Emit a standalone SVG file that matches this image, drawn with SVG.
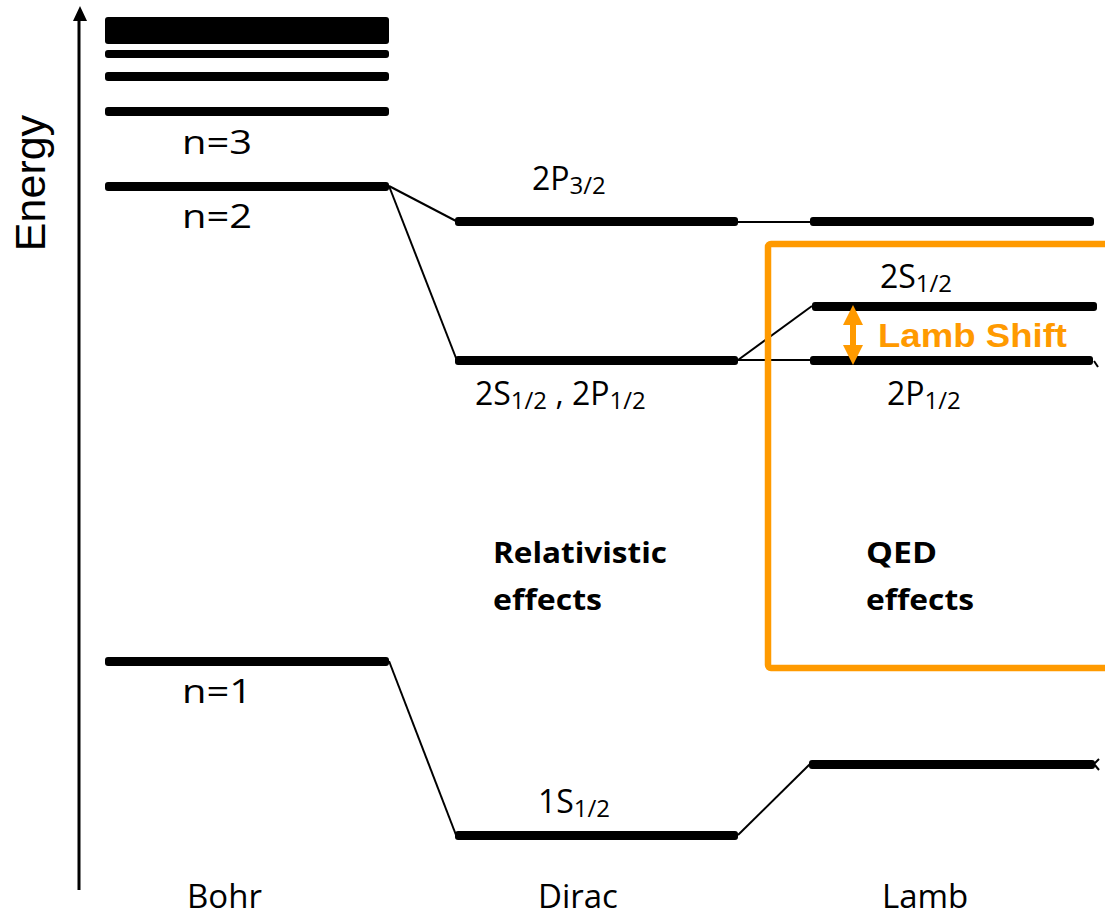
<svg xmlns="http://www.w3.org/2000/svg" width="1105" height="916" viewBox="0 0 1105 916">
<style>
.lvl{fill:#000}
.con{stroke:#000;stroke-width:2;fill:none}
.t{font-family:"Open Sans","Liberation Sans",sans-serif;fill:#000}
.lab{font-size:32px}
.sub{font-size:24px}
.nlab{font-size:33px}
.col{font-size:33px}
.bold{font-family:"Open Sans","Liberation Sans",sans-serif;font-weight:700;font-size:28px;fill:#000}
.orange{fill:#FF9A00}
</style>
<rect width="1105" height="916" fill="#fff"/>
<g id="axis">
<line x1="79" y1="890" x2="79" y2="18" stroke="#000" stroke-width="3"/>
<polygon points="80,6 73,21 87,21" fill="#000"/>
<text font-family="'Liberation Sans',Arial,sans-serif" font-size="43" fill="#000" text-anchor="middle" transform="translate(45,183) rotate(-90)">Energy</text>
</g>
<g id="connectors">
<line class="con" x1="389" y1="186" x2="456" y2="221"/>
<line class="con" x1="389" y1="186" x2="456" y2="358"/>
<line class="con" x1="738" y1="222" x2="810" y2="222"/>
<line class="con" x1="738" y1="360" x2="812" y2="306"/>
<line class="con" x1="738" y1="360" x2="810" y2="360"/>
<line class="con" x1="389" y1="661" x2="456" y2="835"/>
<line class="con" x1="738" y1="835" x2="810" y2="764"/>
<line class="con" x1="1094" y1="361" x2="1098" y2="367"/>
<line class="con" x1="1094" y1="764" x2="1099" y2="759"/>
<line class="con" x1="1094" y1="764" x2="1099" y2="770"/>
</g>
<g id="bohr">
<rect class="lvl" x="105" y="17" width="284" height="27" rx="3"/>
<rect class="lvl" x="105" y="50" width="284" height="8" rx="3"/>
<rect class="lvl" x="105" y="72" width="284" height="9" rx="3"/>
<rect class="lvl" x="105" y="107" width="284" height="9" rx="3"/>
<rect class="lvl" x="105" y="182" width="284" height="9" rx="3"/>
<rect class="lvl" x="105" y="657" width="284" height="9" rx="3"/>
<text class="t nlab" x="182" y="154" textLength="70" lengthAdjust="spacingAndGlyphs">n=3</text>
<text class="t nlab" x="182" y="228" textLength="70" lengthAdjust="spacingAndGlyphs">n=2</text>
<text class="t nlab" x="182" y="703" textLength="70" lengthAdjust="spacingAndGlyphs">n=1</text>
<text class="t col" x="187" y="908">Bohr</text>
</g>
<g id="dirac">
<rect class="lvl" x="455" y="217" width="283" height="9" rx="3"/>
<rect class="lvl" x="455" y="356" width="283" height="9" rx="3"/>
<rect class="lvl" x="455" y="831" width="283" height="9" rx="3"/>
<text class="t lab" x="532" y="190">2P<tspan class="sub" dy="4">3/2</tspan></text>
<text class="t lab" x="475" y="405">2S<tspan class="sub" dy="4">1/2</tspan><tspan dy="-4"> , 2P</tspan><tspan class="sub" dy="4">1/2</tspan></text>
<text class="t lab" x="538" y="813">1S<tspan class="sub" dy="4">1/2</tspan></text>
<text class="t col" x="538" y="908">Dirac</text>
<text class="bold" x="493" y="563" textLength="174" lengthAdjust="spacingAndGlyphs">Relativistic</text>
<text class="bold" x="493" y="610" textLength="109" lengthAdjust="spacingAndGlyphs">effects</text>
</g>
<g id="lamb">
<rect class="lvl" x="810" y="217" width="284" height="9" rx="3"/>
<rect class="lvl" x="812" y="302" width="285" height="9" rx="3"/>
<rect class="lvl" x="810" y="356" width="283" height="9" rx="3"/>
<rect class="lvl" x="809" y="760" width="286" height="9" rx="3"/>
<text class="t lab" x="880" y="288">2S<tspan class="sub" dy="4">1/2</tspan></text>
<text class="t lab" x="887" y="405">2P<tspan class="sub" dy="4">1/2</tspan></text>
<text class="t col" x="882" y="908">Lamb</text>
</g>
<g id="qed-box">
<rect x="768" y="244" width="350" height="424" rx="3" fill="none" stroke="#FF9A00" stroke-width="6.5"/>
<text class="bold" x="866" y="563" textLength="71" lengthAdjust="spacingAndGlyphs">QED</text>
<text class="bold" x="866" y="610" textLength="108" lengthAdjust="spacingAndGlyphs">effects</text>
</g>
<g id="lamb-shift">
<rect class="orange" x="850" y="322" width="6" height="26"/>
<polygon class="orange" points="853,305 843,325 863,325"/>
<polygon class="orange" points="853,365 843,345 863,345"/>
<text x="878" y="347" font-family="'Liberation Sans',Arial,sans-serif" font-weight="700" font-size="33.5" fill="#FF9A00" textLength="189" lengthAdjust="spacingAndGlyphs">Lamb Shift</text>
</g>
</svg>
